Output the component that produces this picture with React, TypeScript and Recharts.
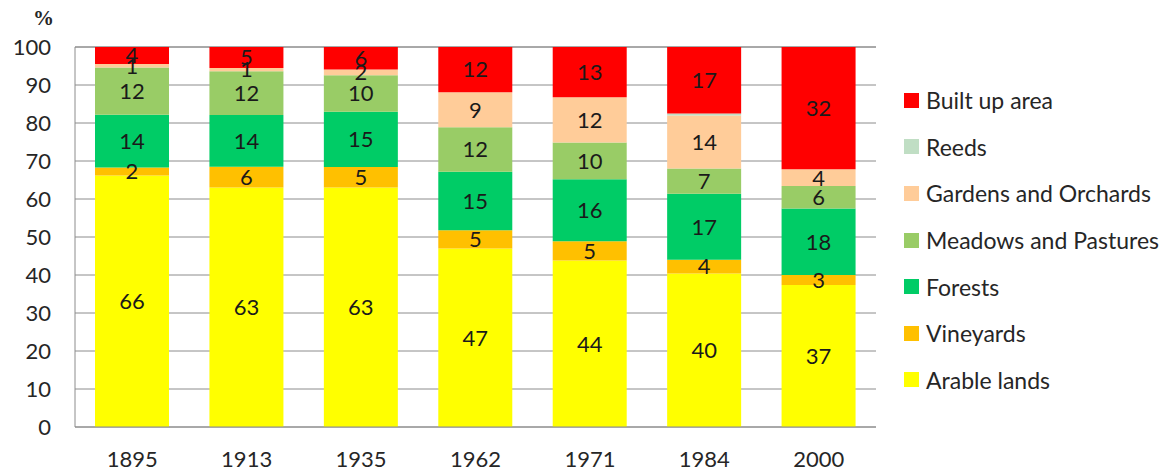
import { BarChart, Bar, XAxis, YAxis, CartesianGrid, LabelList } from 'recharts';

const years = ['1895', '1913', '1935', '1962', '1971', '1984', '2000'];

const arable = [66.2, 63.0, 63.0, 47.0, 43.8, 40.4, 37.4];
const vineyards = [2.1, 5.5, 5.45, 4.8, 5.1, 3.6, 2.6];
const forests = [13.9, 13.6, 14.5, 15.4, 16.3, 17.4, 17.5];
const meadows = [12.4, 11.5, 9.6, 11.7, 9.7, 6.6, 5.9];
const gardens = [0.9, 0.9, 1.5, 9.2, 11.9, 14.0, 4.4];
const reeds = [0, 0, 0, 0, 0, 0.5, 0];
const builtUp = [4.49, 5.49, 5.95, 11.9, 13.2, 17.49, 32.2];

const yTicks = [0, 10, 20, 30, 40, 50, 60, 70, 80, 90, 100];

// bottom to top
const series = [
  { key: 'arable', name: 'Arable lands', color: '#FFFF00', labels: true },
  { key: 'vineyards', name: 'Vineyards', color: '#FFC000', labels: true },
  { key: 'forests', name: 'Forests', color: '#00CC66', labels: true },
  { key: 'meadows', name: 'Meadows and Pastures', color: '#99CC66', labels: true },
  { key: 'gardens', name: 'Gardens and Orchards', color: '#FFCC99', labels: true },
  { key: 'reeds', name: 'Reeds', color: '#C0DEC4', labels: false },
  { key: 'builtUp', name: 'Built up area', color: '#FF0000', labels: true },
];

const data = years.map((year, i) => ({
  year,
  arable: arable[i],
  vineyards: vineyards[i],
  forests: forests[i],
  meadows: meadows[i],
  gardens: gardens[i],
  reeds: reeds[i],
  builtUp: builtUp[i],
}));

const FONT = 'Lato, "Noto Sans", sans-serif';
const TEXT = '#262626';

const fmt = (v: any) => Math.round(Number(v));

function LegendBox() {
  const items = [...series].reverse();
  return (
    <div style={{ position: 'absolute', left: 904, top: 77, fontFamily: FONT, fontSize: 23, color: TEXT }}>
      {items.map((s) => (
        <div key={s.key} style={{ display: 'flex', alignItems: 'center', height: 46.6 }}>
          <div style={{ width: 15, height: 15, background: s.color, marginRight: 7 }} />
          <span>{s.name}</span>
        </div>
      ))}
    </div>
  );
}

export default function App() {
  return (
    <div style={{ position: 'absolute', left: 0, top: 0, width: 1173, height: 472, background: '#fff' }}>
      <div style={{ position: 'absolute', left: 33, top: 6, fontFamily: '"Liberation Serif", serif', fontSize: 21, fontWeight: 'bold', color: TEXT }}>
        %
      </div>
      <BarChart
        width={1173}
        height={472}
        data={data}
        margin={{ top: 47, right: 297, left: 0, bottom: 0 }}
        barSize={74}
      >
        <CartesianGrid vertical={false} stroke="#8c8c8c" />
        <XAxis
          dataKey="year"
          height={45}
          axisLine={{ stroke: '#8c8c8c' }}
          tickLine={false}
          tickSize={0}
          tickMargin={24}
          tick={{ fill: TEXT, fontSize: 22, fontFamily: FONT }}
        />
        <YAxis
          width={75}
          domain={[0, 100]}
          ticks={yTicks}
          interval={0}
          axisLine={{ stroke: '#8c8c8c' }}
          tickLine={false}
          tickSize={0}
          tickMargin={24}
          tick={{ fill: TEXT, fontSize: 22, fontFamily: FONT }}
        />
        {series.map((s) => (
          <Bar key={s.key} dataKey={s.key} name={s.name} stackId="a" fill={s.color} isAnimationActive={false}>
            {s.labels && (
              <LabelList
                dataKey={s.key}
                position="center"
                formatter={fmt}
                fill="#1a1a1a"
                fontSize={22}
                fontFamily={FONT}
              />
            )}
          </Bar>
        ))}
      </BarChart>
      <LegendBox />
    </div>
  );
}
